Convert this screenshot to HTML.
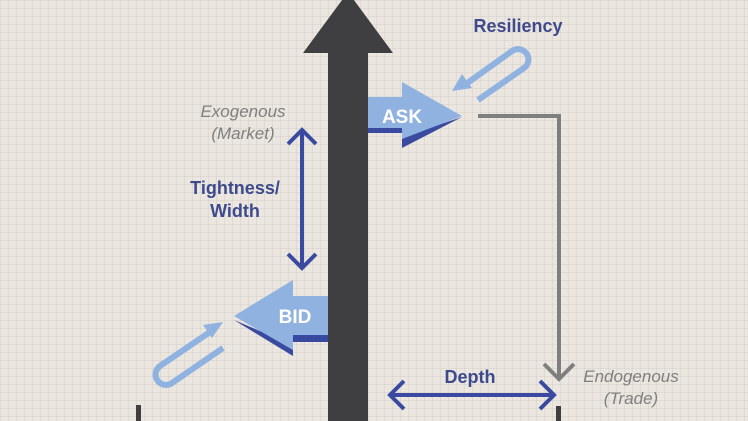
<!DOCTYPE html>
<html><head><meta charset="utf-8"><style>
html,body{margin:0;padding:0}
body{width:748px;height:421px;overflow:hidden;background:#ebe6df;
background-image:linear-gradient(rgba(200,190,185,.3) 1px,transparent 1px),linear-gradient(90deg,rgba(200,190,185,.3) 1px,transparent 1px);background-size:8px 8px;}
</style></head><body>
<svg width="748" height="421" viewBox="0 0 748 421" style="position:absolute;left:0;top:0" font-family="Liberation Sans, sans-serif">
<rect x="328" y="50" width="40" height="371" fill="#3f3f41"/>
<polygon points="303,53 393,53 348,-8" fill="#3f3f41"/>
<polygon points="368,128 402,128 402,148 462,117 402,137 402,133 368,133" fill="#3a4aa0"/>
<polygon points="368,97 402,97 402,82 462,116 402,139 402,128 368,128" fill="#8fb2e0"/>
<text x="402" y="123" font-size="19" font-weight="bold" fill="#fff" text-anchor="middle">ASK</text>
<polygon points="328,335 293,335 293,356 234,320 293,345 293,342 328,342" fill="#3a4aa0"/>
<polygon points="328,296 293,296 293,280 234,316 293,350 293,335 328,335" fill="#8fb2e0"/>
<text x="295" y="323" font-size="19" font-weight="bold" fill="#fff" text-anchor="middle">BID</text>
<g stroke="#3a4aa0" stroke-width="4" fill="none">
<line x1="302" y1="130" x2="302" y2="268"/>
<polyline points="288,144 302,130 316,144"/>
<polyline points="288,254 302,268 316,254"/>
<line x1="390" y1="395" x2="554" y2="395"/>
<polyline points="404,381 390,395 404,409"/>
<polyline points="540,381 554,395 540,409"/>
</g>
<g stroke="#7f7f7f" stroke-width="4" fill="none">
<polyline points="478,116 559,116 559,378"/>
<polyline points="544,364 559,379 574,364"/>
</g>
<rect x="136" y="405" width="5" height="16" fill="#3f3f41"/>
<rect x="556" y="406" width="5" height="15" fill="#3f3f41"/>
<g stroke="#8fb2e0" stroke-width="6" fill="none">
<path d="M478,100 L524,68 A10,10 0 0 0 512,51 L466,84"/>
<path d="M223,348 L172,383 A10,10 0 0 1 160,366 L210,332"/>
</g>
<polygon points="452,91 462,74 472,88" fill="#8fb2e0"/>
<polygon points="223,322 212,338 203,325" fill="#8fb2e0"/>
<text x="518" y="32" font-size="18" font-weight="bold" fill="#3d4a8c" text-anchor="middle">Resiliency</text>
<text x="243" y="117" font-size="17" font-style="italic" fill="#7f7f7f" text-anchor="middle">Exogenous</text>
<text x="243" y="139" font-size="17" font-style="italic" fill="#7f7f7f" text-anchor="middle">(Market)</text>
<text x="235" y="194" font-size="18" font-weight="bold" fill="#3d4a8c" text-anchor="middle">Tightness/</text>
<text x="235" y="217" font-size="18" font-weight="bold" fill="#3d4a8c" text-anchor="middle">Width</text>
<text x="470" y="383" font-size="18" font-weight="bold" fill="#3d4a8c" text-anchor="middle">Depth</text>
<text x="631" y="382" font-size="17" font-style="italic" fill="#7f7f7f" text-anchor="middle">Endogenous</text>
<text x="631" y="404" font-size="17" font-style="italic" fill="#7f7f7f" text-anchor="middle">(Trade)</text>
</svg>
</body></html>
